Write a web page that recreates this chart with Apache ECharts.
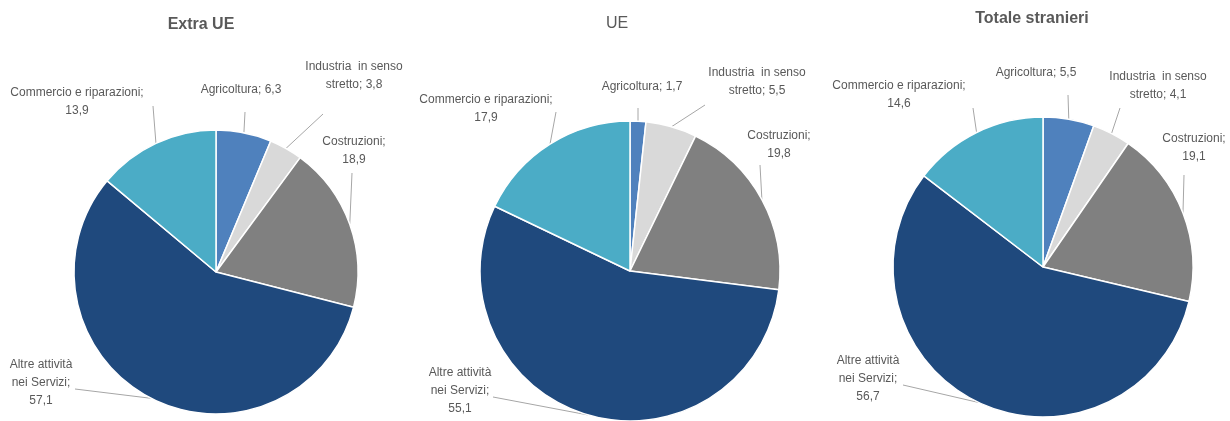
<!DOCTYPE html>
<html>
<head>
<meta charset="utf-8">
<script src="https://cdn.jsdelivr.net/npm/echarts@6/dist/echarts.min.js"></script>
<style>
  html, body { margin: 0; padding: 0; background: #fff; }
  #chart { width: 1230px; height: 421px; }
</style>
</head>
<body>
<div id="chart"></div>
<script>
// dati
var categories = ['Agricoltura', 'Industria  in senso\nstretto', 'Costruzioni', 'Altre attività\nnei Servizi', 'Commercio e riparazioni'];
var separators = [' ', ' ', '\n', '\n', '\n'];
var titles = ['Extra UE', 'UE', 'Totale stranieri'];
var extraUE = [6.3, 3.8, 18.9, 57.1, 13.9];
var ue = [1.7, 5.5, 19.8, 55.1, 17.9];
var totale = [5.5, 4.1, 19.1, 56.7, 14.6];

// colori
var colors = ['#4f81bd', '#d9d9d9', '#808080', '#1f497d', '#4bacc6'];

// posizione etichette [x, y] e fine linea guida [x, y]
var labelPos = [
  [[241, 90], [354, 76], [354, 151], [41, 383], [77, 102]],
  [[642, 87], [757, 82], [779, 145], [460, 391], [486, 109]],
  [[1036, 73], [1158, 86], [1194, 148], [868, 379], [899, 95]]
];
var lineEnd = [
  [[245, 112], [323, 114], [352, 173], [75, 389], [153, 106]],
  [[638, 108], [705, 105], [760, 165], [493, 397], [556, 112]],
  [[1068, 95], [1120, 108], [1184, 175], [903, 385], [973, 108]]
];

var chart = echarts.init(document.getElementById('chart'));

function makeSeries (values, idx, center, radius) {
  return {
    type: 'pie',
    center: center,
    radius: radius,
    startAngle: 90,
    clockwise: true,
    avoidLabelOverlap: false,
    silent: true,
    itemStyle: { borderColor: '#fff', borderWidth: 1.5 },
    label: {
      show: true,
      position: 'outer',
      color: '#595959',
      fontSize: 12,
      fontFamily: 'Liberation Sans, Arial, sans-serif',
      lineHeight: 18,
      align: 'center',
      formatter: function (p) {
        return categories[p.dataIndex] + ';' + separators[p.dataIndex] + p.value.toFixed(1).replace('.', ',');
      }
    },
    labelLine: {
      show: true,
      lineStyle: { color: '#a6a6a6', width: 1 }
    },
    labelLayout: function (p) {
      var pos = labelPos[idx][p.dataIndex];
      var end = lineEnd[idx][p.dataIndex];
      var start = p.labelLinePoints ? p.labelLinePoints[0] : end;
      return {
        x: pos[0],
        y: pos[1],
        align: 'center',
        verticalAlign: 'middle',
        labelLinePoints: [start, end, end]
      };
    },
    data: values.map(function (v, i) {
      return { name: categories[i], value: v, itemStyle: { color: colors[i] } };
    })
  };
}

var titleStyle = { color: '#595959', fontSize: 16, fontFamily: 'Liberation Sans, Arial, sans-serif' };

var option = {
  animation: false,
  title: [
    { text: titles[0], left: 196, top: 12, textAlign: 'center', textStyle: Object.assign({}, titleStyle, { fontWeight: 'bold' }) },
    { text: titles[1], left: 612, top: 11, textAlign: 'center', textStyle: Object.assign({}, titleStyle, { fontWeight: 'normal' }) },
    { text: titles[2], left: 1027, top: 6, textAlign: 'center', textStyle: Object.assign({}, titleStyle, { fontWeight: 'bold' }) }
  ],
  series: [
    makeSeries(extraUE, 0, [216, 272], 142),
    makeSeries(ue, 1, [630, 271], 150),
    makeSeries(totale, 2, [1043, 267], 150)
  ]
};

chart.setOption(option);
</script>
</body>
</html>
